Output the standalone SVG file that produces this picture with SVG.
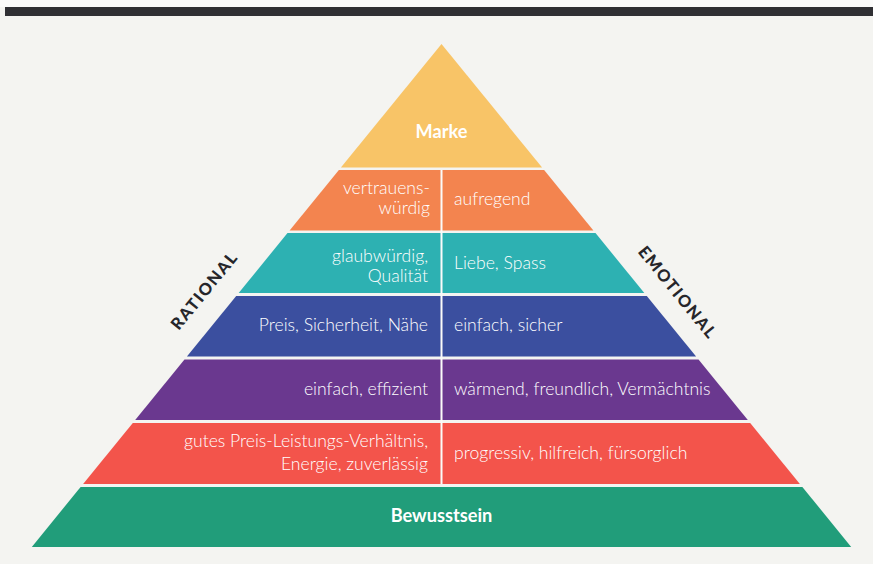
<svg xmlns="http://www.w3.org/2000/svg" width="873" height="564" viewBox="0 0 873 564">
<style>
.t{font-family:Lato,"Open Sans","Liberation Sans",sans-serif;font-weight:300;font-size:17.6px;fill:#fff}
.b{font-family:Lato,"Open Sans","Liberation Sans",sans-serif;font-weight:700;font-size:18.2px;fill:#fff}
.s{font-family:Lato,"Open Sans","Liberation Sans",sans-serif;font-weight:900;font-size:16.5px;fill:#26262a;letter-spacing:1.6px}
.r{text-anchor:end}
.c{text-anchor:middle}
</style>
<rect x="0" y="0" width="873" height="564" fill="#f4f4f1"/>
<rect x="0" y="0" width="873" height="7" fill="#fbfbfa"/>
<rect x="5" y="7" width="868" height="9" fill="#303034"/>
<g id="marke">
<polygon points="441.5,44 542.1,167.5 340.9,167.5" fill="#f8c467"/>
<text class="b c" x="441.5" y="138">Marke</text>
</g>
<g id="layer-orange">
<polygon points="338.9,170 544.1,170 593.4,230.5 289.6,230.5" fill="#f3844f"/>
<text class="t r" x="430" y="194">vertrauens-</text>
<text class="t r" x="430" y="214">würdig</text>
<text class="t" x="454" y="205">aufregend</text>
</g>
<g id="layer-teal">
<polygon points="287.5,233 595.5,233 644.3,293 238.7,293" fill="#2db1b2"/>
<text class="t r" x="428" y="261.5">glaubwürdig,</text>
<text class="t r" x="428" y="282">Qualität</text>
<text class="t" x="454" y="269">Liebe, Spass</text>
</g>
<g id="layer-blue">
<polygon points="236.2,296 646.8,296 696.1,356.5 186.9,356.5" fill="#3b4f9f"/>
<text class="t r" x="428" y="331">Preis, Sicherheit, Nähe</text>
<text class="t" x="454" y="331">einfach, sicher</text>
</g>
<g id="layer-purple">
<polygon points="184.5,359.5 698.5,359.5 747.8,420 135.2,420" fill="#6a388f"/>
<text class="t r" x="428" y="395">einfach, effizient</text>
<text class="t" x="454" y="395">wärmend, freundlich, Vermächtnis</text>
</g>
<g id="layer-red">
<polygon points="132.8,423 750.2,423 799.9,484 83.1,484" fill="#f3544b"/>
<text class="t r" x="428" y="446.5">gutes Preis-Leistungs-Verhältnis,</text>
<text class="t r" x="428" y="469.5">Energie, zuverlässig</text>
<text class="t" x="454" y="458.5">progressiv, hilfreich, fürsorglich</text>
</g>
<g id="bewusstsein">
<polygon points="80.6,487 802.4,487 851.2,547 31.8,547" fill="#219d7a"/>
<text class="b c" x="441.5" y="522">Bewusstsein</text>
</g>
<g id="connectors">
<line x1="441.5" y1="170" x2="441.5" y2="484" stroke="#fbfbfa" stroke-width="2"/>
</g>
<g id="rational">
<text class="s c" transform="translate(205,291) rotate(-50.8)" y="5">RATIONAL</text>
</g>
<g id="emotional">
<text class="s c" transform="translate(677,293) rotate(50.8)" y="5">EMOTIONAL</text>
</g>
</svg>
